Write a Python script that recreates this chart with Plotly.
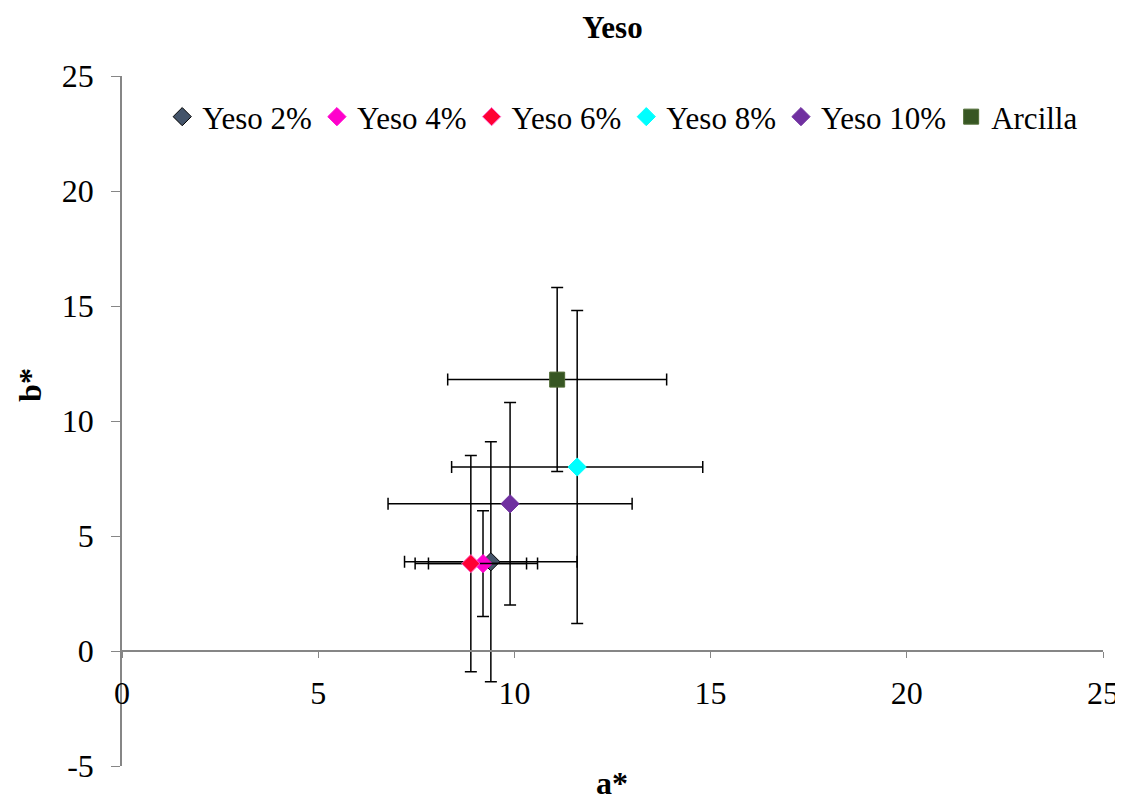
import plotly.graph_objects as go

names = ["Yeso 2%", "Yeso 4%", "Yeso 6%", "Yeso 8%", "Yeso 10%", "Arcilla"]
a_vals = [9.40, 9.20, 8.89, 11.60, 9.89, 11.09]
b_vals = [3.88, 3.80, 3.80, 8.00, 6.40, 11.80]
a_err = [2.20, 1.39, 1.42, 3.20, 3.11, 2.79]
b_err = [5.22, 2.30, 4.70, 6.80, 4.40, 4.00]
colors = ["#44546A", "#FF00CC", "#FF0033", "#00FFFF", "#7030A0", "#375623"]
outline = ["#000000", "#FF00CC", "#FF66CC", "#00FFFF", "#7030A0", "#4F6B35"]
symbols = ["diamond", "diamond", "diamond", "diamond", "diamond", "square"]

x_ticks = [0, 5, 10, 15, 20, 25]
x_labels = ["0", "5", "10", "15", "20", "25"]
y_ticks = [-5, 0, 5, 10, 15, 20, 25]
y_labels = ["-5", "0", "5", "10", "15", "20", "25"]

FONT = "Liberation Serif, Times New Roman, serif"
FS = 32

fig = go.Figure()
for i in range(len(names)):
    fig.add_trace(go.Scatter(
        x=[a_vals[i]], y=[b_vals[i]], name=names[i], mode="markers",
        marker=dict(symbol=symbols[i], size=14 if symbols[i] == "diamond" else 15,
                    color=colors[i], line=dict(color=outline[i], width=1)),
        error_x=dict(type="data", array=[a_err[i]], color="black", thickness=1.5, width=6),
        error_y=dict(type="data", array=[b_err[i]], color="black", thickness=1.5, width=6),
    ))

fig.update_layout(
    width=1115, height=787,
    margin=dict(l=114, r=20, t=68, b=29, autoexpand=False),
    paper_bgcolor="white", plot_bgcolor="white",
    font=dict(family=FONT, size=FS, color="black"),
    title=dict(text="<b>Yeso</b>", x=0.5, xref="paper", yref="container", y=1 - 19/787,
               yanchor="middle", font=dict(family=FONT, size=31, color="black")),
    showlegend=True,
    legend=dict(orientation="h", x=0.041, y=0.9406, xanchor="left", yanchor="middle",
                bgcolor="rgba(0,0,0,0)", font=dict(family=FONT, size=31),
                itemclick=False),
    xaxis=dict(range=[0, 25], tickvals=x_ticks, ticktext=x_labels, anchor="free",
               position=5/30, automargin=False, ticklabeloverflow="allow",
               showgrid=False, zeroline=False, showline=True, linecolor="#868686",
               linewidth=1.5, ticks="outside", ticklen=6, tickcolor="#868686",
               ticklabelstandoff=8, tickfont=dict(family=FONT, size=FS)),
    yaxis=dict(range=[-5, 25], tickvals=y_ticks, ticktext=y_labels, domain=[0, 1],
               automargin=False, ticklabeloverflow="allow",
               showgrid=False, zeroline=False, showline=True, linecolor="#868686",
               linewidth=1.5, ticks="outside", ticklen=9, tickcolor="#868686",
               ticklabelstandoff=11, tickfont=dict(family=FONT, size=FS)),
)

fig.add_annotation(text="<b>a*</b>", xref="paper", yref="paper", x=0.4995, y=-0.024,
                   xanchor="center", yanchor="middle", showarrow=False,
                   font=dict(family=FONT, size=FS))
fig.add_annotation(text="<b>b*</b>", xref="paper", yref="paper", x=-0.094, y=0.552,
                   xanchor="center", yanchor="middle", showarrow=False, textangle=-90,
                   font=dict(family=FONT, size=FS))

fig.write_html("out.html")
